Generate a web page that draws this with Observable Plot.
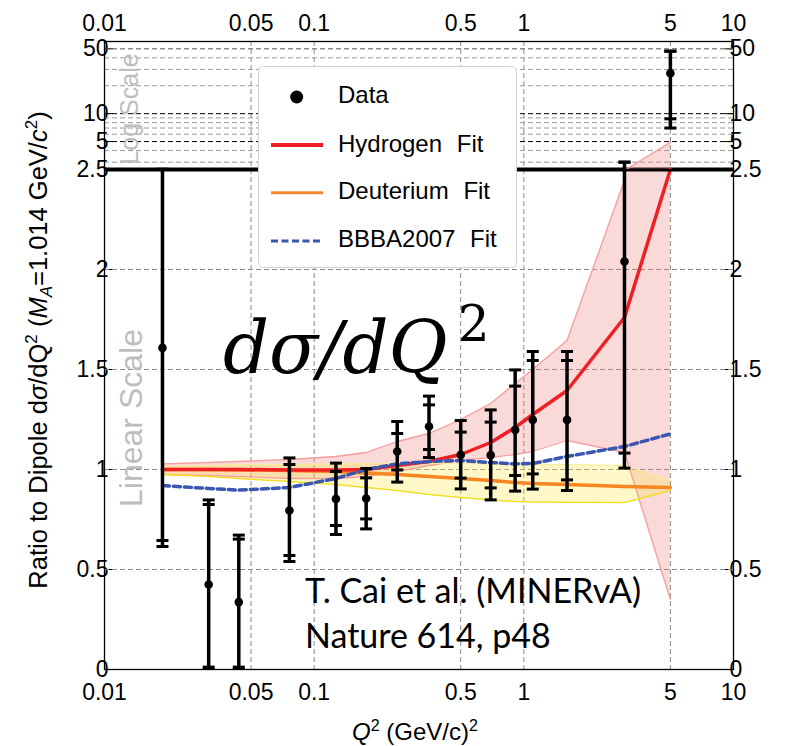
<!DOCTYPE html>
<html>
<head>
<meta charset="utf-8">
<script src="https://cdn.jsdelivr.net/npm/d3@7"></script>
<script src="https://cdn.jsdelivr.net/npm/@observablehq/plot@0.6"></script>
<style>
  body { margin: 0; background: #fff; }
  #wrap { position: relative; width: 787px; height: 746px; overflow: hidden; background: #fff; }
  #wrap > svg { position: absolute; left: 0; }
</style>
</head>
<body>
<div id="wrap"></div>
<script>
// ---------------- data ----------------
const q2      = [0.0189, 0.0314, 0.0437, 0.0762, 0.127, 0.177, 0.249, 0.353, 0.500, 0.695, 0.909, 1.103, 1.607, 3.02, 5.0];
const ratio   = [1.608, 0.425, 0.337, 0.795, 0.853, 0.855, 1.090, 1.215, 1.073, 1.072, 1.198, 1.248, 1.248, 2.04, 27.3];
const innerLo = [0.645, 0.012, 0.012, 0.570, 0.720, 0.753, 0.998, 1.100, 0.957, 0.908, 0.970, 0.978, 0.948, 1.082, 8.8];
const innerHi = [2.51, 0.825, 0.652, 1.025, 0.990, 0.958, 1.180, 1.323, 1.187, 1.237, 1.417, 1.545, 1.545, 3.0, 47.2];
const outerLo = [0.615, 0, 0, 0.540, 0.675, 0.703, 0.937, 1.060, 0.903, 0.848, 0.892, 0.902, 0.895, 1.007, 7.0];
const outerHi = [2.51, 0.848, 0.672, 1.058, 1.032, 1.005, 1.240, 1.367, 1.245, 1.298, 1.498, 1.590, 1.590, 3.0, 47.2];

const hydrogenFit  = [1.0, 1.0, 1.0, 0.998, 0.997, 1.0, 1.02, 1.04, 1.075, 1.135, 1.21, 1.275, 1.395, 1.76, 2.5];
const hydrogenLo   = [0.975, 0.97, 0.965, 0.955, 0.955, 0.965, 0.99, 1.02, 1.045, 1.06, 1.075, 1.09, 1.145, 1.085, 0.35];
const hydrogenHi   = [1.028, 1.035, 1.04, 1.05, 1.065, 1.085, 1.14, 1.18, 1.25, 1.33, 1.43, 1.50, 1.645, 2.445, 4.9];
const deuteriumFit = [1.0, 1.0, 0.998, 0.995, 0.99, 0.983, 0.975, 0.965, 0.955, 0.945, 0.935, 0.93, 0.925, 0.915, 0.91];
const deuteriumLo  = [0.975, 0.965, 0.955, 0.94, 0.925, 0.91, 0.895, 0.875, 0.86, 0.848, 0.84, 0.838, 0.836, 0.835, 0.895];
const deuteriumHi  = [1.015, 1.02, 1.022, 1.025, 1.027, 1.03, 1.03, 1.03, 1.03, 1.028, 1.026, 1.025, 1.025, 1.02, 0.945];
const bbbaFit      = [0.92, 0.905, 0.897, 0.91, 0.955, 1.0, 1.028, 1.04, 1.045, 1.035, 1.028, 1.03, 1.065, 1.115, 1.178];

const xTicks        = [0.01, 0.05, 0.1, 0.5, 1, 5, 10];
const xGrid         = [0.05, 0.1, 0.5, 1, 5];
const yTicksLin     = [0, 0.5, 1, 1.5, 2, 2.5];
const yGridLin      = [0.5, 1, 1.5, 2];
const yTicksLog     = [5, 10, 50];
const yGridLogMinor = [3, 4, 6, 7, 8, 9, 20, 30, 40];
const yGridLogMajor = [5, 10];
const yGridLogTop   = [50];
const boundary      = [2.5];

// ---------------- tables ----------------
const points = q2.map((x, i) => ({x, y: ratio[i], iLo: innerLo[i], iHi: innerHi[i], oLo: outerLo[i], oHi: outerHi[i]}));
const caps = points.flatMap(p => [p.iLo, p.iHi, p.oLo, p.oHi].map(v => ({x: p.x, y: v})));
const fits = q2.map((x, i) => ({x, h: hydrogenFit[i], hLo: hydrogenLo[i], hHi: hydrogenHi[i],
  d: deuteriumFit[i], dLo: deuteriumLo[i], dHi: deuteriumHi[i], b: bbbaFit[i]}));

const capSymbol = {draw(ctx, size) { const r = Math.sqrt(size / Math.PI); ctx.moveTo(-r, 0); ctx.lineTo(r, 0); }};
const fmt = d => String(d);
const FONT = "Liberation Sans, Arial, Helvetica, sans-serif";
const grid = {stroke: "#8a8a8a", strokeDasharray: "5,3", strokeWidth: 1};

const sharedMarks = () => [
  Plot.areaY(fits, {x: "x", y1: "hLo", y2: "hHi", fill: "#f08080", fillOpacity: 0.3, clip: true}),
  Plot.areaY(fits, {x: "x", y1: "dLo", y2: "dHi", fill: "#fde84a", fillOpacity: 0.3, clip: true}),
  Plot.line(fits, {x: "x", y: "hLo", stroke: "#f4a0a0", strokeWidth: 1.3, clip: true}),
  Plot.line(fits, {x: "x", y: "hHi", stroke: "#f4a0a0", strokeWidth: 1.3, clip: true}),
  Plot.line(fits, {x: "x", y: "dLo", stroke: "#f2df2a", strokeWidth: 1.5, clip: true}),
  Plot.line(fits, {x: "x", y: "dHi", stroke: "#f8ec9a", strokeWidth: 1.2, clip: true}),
  Plot.line(fits, {x: "x", y: "d", stroke: "#f6861f", strokeWidth: 3.5, clip: true}),
  Plot.line(fits, {x: "x", y: "h", stroke: "#ee2024", strokeWidth: 3.5, clip: true}),
  Plot.line(fits, {x: "x", y: "b", stroke: "#3a56b0", strokeWidth: 3.5, strokeDasharray: "7,4", clip: true}),
  Plot.ruleX(points, {x: "x", y1: "oLo", y2: "oHi", stroke: "black", strokeWidth: 3.5, clip: true}),
  Plot.dot(caps, {x: "x", y: "y", symbol: capSymbol, r: 6, stroke: "black", strokeWidth: 3, fill: "none", clip: true}),
  Plot.dot(points, {x: "x", y: "y", r: 4.3, fill: "black", stroke: "none", clip: true})
];

const style = {background: "transparent", overflow: "visible", fontFamily: FONT, fontSize: "23px", color: "black"};

// ---------------- top (log) panel ----------------
const topPlot = Plot.plot({
  width: 787, height: 169, marginLeft: 104, marginRight: 54, marginTop: 41, marginBottom: 0,
  style,
  x: {type: "log", domain: [0.01, 10], axis: null, label: null},
  y: {type: "log", domain: [2.5, 60], axis: "both", ticks: yTicksLog, tickFormat: fmt, tickSize: -9, tickPadding: 5, label: null},
  marks: [
    Plot.ruleX(xGrid, grid),
    Plot.ruleY(yGridLogMinor, {stroke: "#9a9a9a", strokeDasharray: "5,3"}),
    Plot.ruleY(yGridLogMajor, {stroke: "black", strokeDasharray: "5,3"}),
    Plot.ruleY(yGridLogTop, {stroke: "#555", strokeDasharray: "5,3"}),
    ...sharedMarks(),
    Plot.frame({stroke: "black", strokeWidth: 1.3}),
    Plot.text(xTicks, {x: d => d, text: fmt, frameAnchor: "top", lineAnchor: "bottom", dy: -11, fontSize: 23, fill: "black"})
  ]
});
topPlot.style.top = "0px";

// ---------------- bottom (linear) panel ----------------
const bottomPlot = Plot.plot({
  width: 787, height: 602, marginLeft: 104, marginRight: 54, marginTop: 25, marginBottom: 77,
  style,
  x: {type: "log", domain: [0.01, 10], axis: null, label: null},
  y: {type: "linear", domain: [0, 2.5], axis: "both", ticks: yTicksLin, tickFormat: fmt, tickSize: -9, tickPadding: 5, label: null},
  marks: [
    Plot.ruleX(xGrid, grid),
    Plot.ruleY(yGridLin, grid),
    ...sharedMarks(),
    Plot.frame({stroke: "black", strokeWidth: 1.3}),
    Plot.ruleY(boundary, {stroke: "black", strokeWidth: 4}),
    Plot.text(xTicks, {x: d => d, text: fmt, frameAnchor: "bottom", lineAnchor: "top", dy: 14, fontSize: 23, fill: "black"})
  ]
});
bottomPlot.style.top = "144px";

const wrap = document.getElementById("wrap");
wrap.appendChild(bottomPlot);
wrap.appendChild(topPlot);

// ---------------- annotations, axis titles, legend ----------------
const ns = "http://www.w3.org/2000/svg";
const overlay = document.createElementNS(ns, "svg");
overlay.setAttribute("width", 787);
overlay.setAttribute("height", 746);
overlay.style.top = "0px";
overlay.style.pointerEvents = "none";
overlay.innerHTML = `
<g font-family="${FONT}">
  <text transform="translate(138,109) rotate(-90)" text-anchor="middle" font-size="25" fill="#bdbdbd">Log Scale</text>
  <text transform="translate(142,418) rotate(-90)" text-anchor="middle" font-size="32" fill="#bdbdbd">Linear Scale</text>
  <text transform="translate(47,350) rotate(-90)" text-anchor="middle" font-size="25.5" fill="black">Ratio to Dipole d<tspan font-style="italic">σ</tspan>/dQ<tspan dy="-10" font-size="17">2</tspan><tspan dy="10"> (</tspan><tspan font-style="italic">M</tspan><tspan dy="5" font-size="17" font-style="italic">A</tspan><tspan dy="-5">=1.014 GeV/</tspan><tspan font-style="italic">c</tspan><tspan dy="-10" font-size="17">2</tspan><tspan dy="10">)</tspan></text>
  <text x="415" y="740" text-anchor="middle" font-size="24" fill="black"><tspan font-style="italic">Q</tspan><tspan dy="-9" font-size="16">2</tspan><tspan dy="9"> (GeV/c)</tspan><tspan dy="-9" font-size="16">2</tspan></text>
  <text x="223" y="373" font-family="DejaVu Serif" font-size="72" fill="black"><tspan font-style="italic">dσ/dQ</tspan><tspan font-size="50" dx="10" dy="-32">2</tspan></text>
  <text x="305" y="603" font-family="Lato" font-size="34" fill="black">T. Cai et al. (MINERvA)</text>
  <text x="305" y="648" font-family="Lato" font-size="34" fill="black">Nature 614, p48</text>
  <rect x="258.5" y="66.5" width="258" height="201" rx="5" fill="white" stroke="#d4d4d4"/>
  <circle cx="296.7" cy="97" r="6.5" fill="black"/>
  <text x="338" y="102.5" font-size="24" fill="black">Data</text>
  <line x1="271" x2="323" y1="145" y2="145" stroke="#ee1c25" stroke-width="4"/>
  <text x="338" y="151.5" font-size="24" word-spacing="8" fill="black">Hydrogen Fit</text>
  <line x1="271" x2="323" y1="192.7" y2="192.7" stroke="#f7882f" stroke-width="3"/>
  <text x="338" y="199" font-size="24" word-spacing="8" fill="black">Deuterium Fit</text>
  <line x1="271" x2="321" y1="241" y2="241" stroke="#3a56b0" stroke-width="3" stroke-dasharray="7,3.5"/>
  <text x="338" y="247" font-size="24" word-spacing="8" fill="black">BBBA2007 Fit</text>
</g>`;
wrap.appendChild(overlay);
</script>
</body>
</html>
